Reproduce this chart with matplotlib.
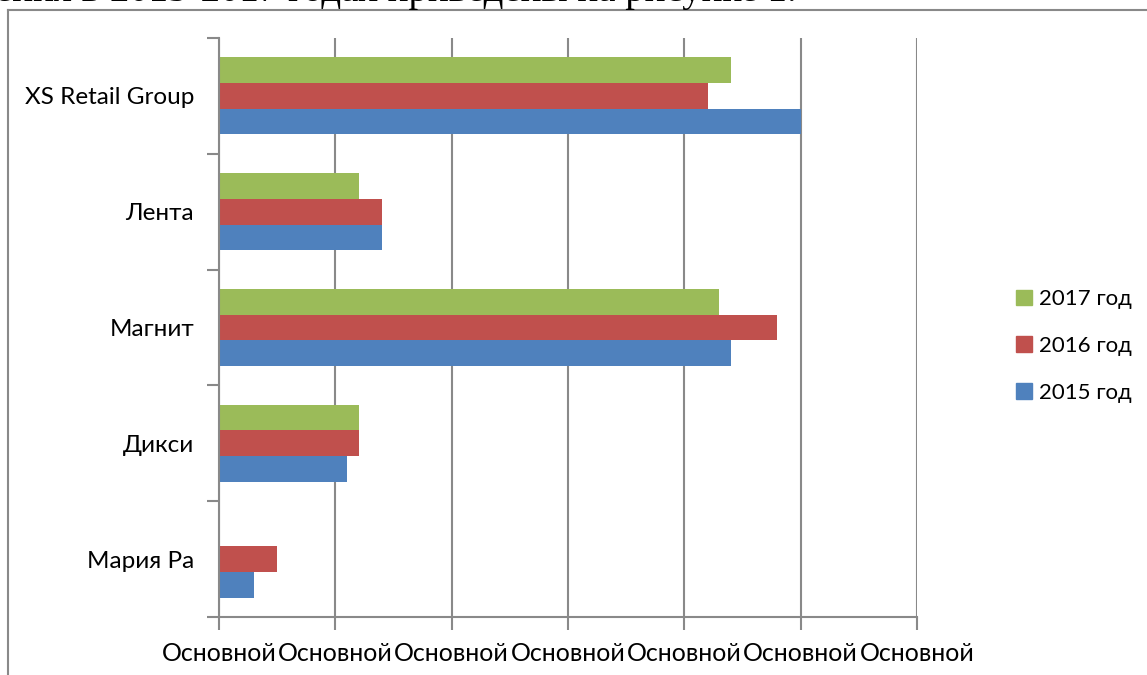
import numpy as np
import matplotlib.pyplot as plt
from matplotlib.patches import Patch
from matplotlib.lines import Line2D

# data (bottom to top, as the chart draws them)
companies = ["Мария Ра", "Дикси", "Магнит", "Лента", "XS Retail Group"]
y2015 = [0.3, 1.1, 4.4, 1.4, 5.0]
y2016 = [0.5, 1.2, 4.8, 1.4, 4.2]
y2017 = [0.0, 1.2, 4.3, 1.2, 4.4]
series_names = ["2015 год", "2016 год", "2017 год"]
x_ticks = [0, 1, 2, 3, 4, 5, 6]
x_tick_label = "Основной"

blue = "#4f81bd"
red = "#c0504d"
green = "#9bbb59"
grey = "#898989"

plt.rcParams["font.family"] = ["Lato", "DejaVu Sans"]

fig = plt.figure(figsize=(11.47, 6.75), dpi=100)
W, H = 1147, 675

# page text cut off at the top + the chart frame
fig.text(-0.004, 1.0 - 0.6 / H, "ения в 2015-2017 годах приведены на рисунке 1.",
         family="Liberation Serif", fontsize=28, ha="left", va="baseline", color="black")
fig.add_artist(Line2D([8 / W, 8 / W], [0, 1 - 10 / H], transform=fig.transFigure,
                      color=grey, lw=1.5))
fig.add_artist(Line2D([8 / W, 1], [1 - 10 / H, 1 - 10 / H], transform=fig.transFigure,
                      color=grey, lw=1.5))

ax = fig.add_axes([219 / W, 58 / H, (917 - 219) / W, (617 - 38) / H])

y = np.arange(len(companies))
h = 0.222
ax.barh(y - h, y2015, height=h, color=blue, zorder=3)
ax.barh(y, y2016, height=h, color=red, zorder=3)
ax.barh(y + h, y2017, height=h, color=green, zorder=3)

ax.set_xlim(0, 6)
ax.set_ylim(-0.5, len(companies) - 0.5)
ax.set_xticks(x_ticks)
ax.set_xticklabels([x_tick_label] * len(x_ticks), fontsize=18)
ax.set_yticks(y)
ax.set_yticklabels(companies, fontsize=17.5)
ax.set_yticks(np.arange(len(companies) + 1) - 0.5, minor=True)

ax.tick_params(axis="y", which="major", length=0, pad=18)
ax.tick_params(axis="y", which="minor", length=9, width=1.5, color=grey, direction="out")
ax.tick_params(axis="x", length=9, width=1.5, color=grey, direction="out", pad=9)

ax.grid(axis="x", color=grey, lw=1.5, zorder=1)
ax.set_axisbelow(True)
for s in ["top", "right"]:
    ax.spines[s].set_visible(False)
for s in ["left", "bottom"]:
    ax.spines[s].set_color(grey)
    ax.spines[s].set_linewidth(1.5)
    ax.spines[s].set_zorder(4)

handles = [Patch(color=green), Patch(color=red), Patch(color=blue)]
fig.legend(handles, series_names[::-1], loc="center left",
           bbox_to_anchor=(1016 / W, 1 - 346 / H), frameon=False, fontsize=16,
           borderpad=0, borderaxespad=0,
           handlelength=0.7, handleheight=0.7, handletextpad=0.35, labelspacing=1.2)

fig.savefig("out.png", dpi=100)
